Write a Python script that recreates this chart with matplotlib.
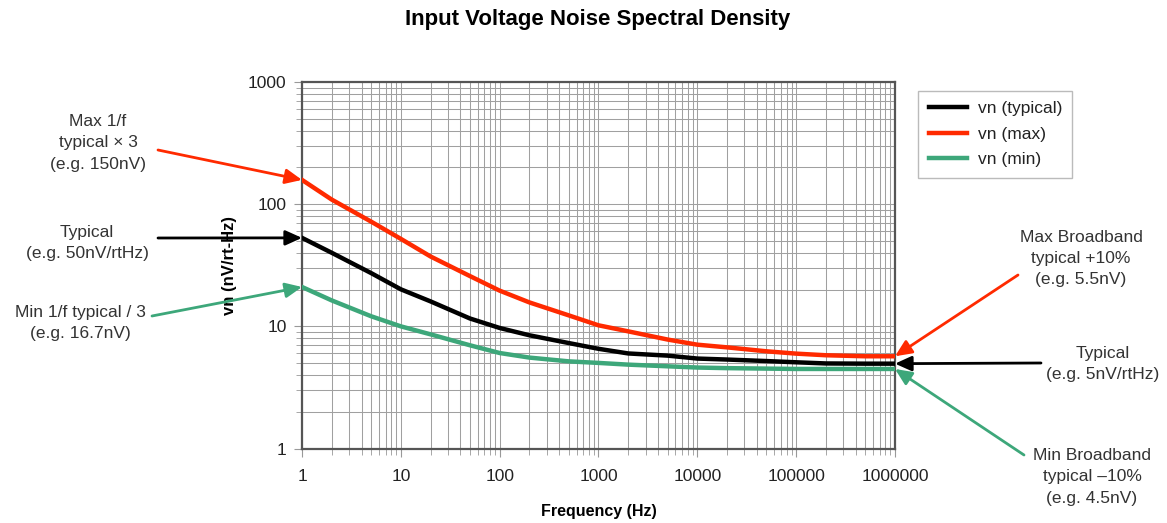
import numpy as np
import matplotlib.pyplot as plt
from matplotlib.ticker import LogLocator, FuncFormatter, NullFormatter

plt.rcParams['font.family'] = ['Liberation Sans', 'DejaVu Sans']

# frequency points (Hz) and noise density (nV/rtHz)
freq = [1, 2, 5, 10, 20, 50, 100, 200, 500, 1e3, 2e3, 5e3, 1e4, 2e4, 5e4, 1e5, 2e5, 5e5, 1e6]
vn_typ = [53, 40, 27.3, 20.1, 16.0, 11.6, 9.7, 8.45, 7.3, 6.55, 6.0, 5.76, 5.45, 5.35, 5.2, 5.08, 4.97, 4.95, 4.95]
vn_max = [158, 109, 72, 52, 37.3, 25.8, 19.6, 15.7, 12.3, 10.2, 9.1, 7.8, 7.08, 6.73, 6.25, 5.98, 5.8, 5.69, 5.69]
vn_min = [21, 16.3, 12.1, 10.0, 8.6, 7.0, 6.05, 5.55, 5.17, 5.02, 4.86, 4.71, 4.6, 4.55, 4.51, 4.48, 4.48, 4.48, 4.48]

series_labels = ['vn (typical)', 'vn (max)', 'vn (min)']
c_typ, c_max, c_min = 'black', '#ff2a00', '#3da77a'
txt_col = '#333333'

fig = plt.figure(figsize=(11.67, 5.23), dpi=100)
ax = fig.add_axes([0.2588, 0.1424, 0.5081, 0.7008])

ax.plot(freq, vn_typ, color=c_typ, lw=3.2, label=series_labels[0], zorder=4)
ax.plot(freq, vn_max, color=c_max, lw=3.2, label=series_labels[1], zorder=4)
ax.plot(freq, vn_min, color=c_min, lw=3.2, label=series_labels[2], zorder=4)

ax.set_xscale('log')
ax.set_yscale('log')
ax.set_xlim(1, 1e6)
ax.set_ylim(1, 1000)

plain = FuncFormatter(lambda v, p: '%d' % round(v))
ax.xaxis.set_major_locator(LogLocator(base=10, numticks=10))
ax.xaxis.set_minor_locator(LogLocator(base=10, subs=np.arange(2, 10), numticks=20))
ax.yaxis.set_major_locator(LogLocator(base=10, numticks=10))
ax.yaxis.set_minor_locator(LogLocator(base=10, subs=np.arange(2, 10), numticks=20))
ax.xaxis.set_major_formatter(plain)
ax.yaxis.set_major_formatter(plain)
ax.xaxis.set_minor_formatter(NullFormatter())
ax.yaxis.set_minor_formatter(NullFormatter())

ax.grid(True, which='both', color='#a0a0a0', lw=0.75)
ax.set_axisbelow(True)
for s in ax.spines.values():
    s.set_color('#555555')
    s.set_linewidth(1.6)
ax.tick_params(which='both', direction='out', color='#999999', labelsize=12.5,
               labelcolor='#222222')
ax.tick_params(axis='x', pad=9)
ax.tick_params(axis='y', pad=5)
ax.tick_params(which='major', length=6)
ax.tick_params(which='minor', length=4)

ax.set_xlabel('Frequency (Hz)', fontsize=11.5, fontweight='bold', labelpad=14)
ax.set_ylabel('vn (nV/rt-Hz)', fontsize=12, fontweight='bold', labelpad=8)
fig.text(598 / 1167, 0.962, 'Input Voltage Noise Spectral Density', ha='center', va='center',
         fontsize=16, fontweight='bold')

leg = ax.legend(loc='upper left', bbox_to_anchor=(1.025, 1.0), fontsize=12.5,
                frameon=True, fancybox=False, edgecolor='#aaaaaa', handlelength=2.2,
                handletextpad=0.6, labelspacing=0.6, borderpad=0.6)
for t in leg.get_texts():
    t.set_color('#222222')

arrow = dict(arrowstyle='-|>,head_length=1.0,head_width=0.45', lw=2, shrinkA=0, shrinkB=0)

def note(text, xy, tpos, tail, color):
    # text block in figure fraction, arrow from tail (figure fraction) to data point
    fig.text(tpos[0], tpos[1], text, ha='center', va='center', fontsize=12.5,
             color=txt_col, linespacing=1.5)
    ax.annotate('', xy=xy, xycoords='data', xytext=tail, textcoords='figure fraction',
                arrowprops=dict(arrow, color=color), annotation_clip=False, zorder=5)

W, H = 1167.0, 523.0
note('Max 1/f\ntypical \u00d7 3\n(e.g. 150nV)', (freq[0], vn_max[0]),
     (98 / W, 1 - 143 / H), (158 / W, 1 - 150 / H), c_max)
note('Typical\n(e.g. 50nV/rtHz)', (freq[0], vn_typ[0]),
     (87 / W, 1 - 243 / H), (158 / W, 1 - 238 / H), c_typ)
note('Min 1/f typical / 3\n(e.g. 16.7nV)', (freq[0], vn_min[0]),
     (80 / W, 1 - 323 / H), (152 / W, 1 - 316 / H), c_min)
note('Max Broadband\ntypical +10%\n(e.g. 5.5nV)', (freq[-1], vn_max[-1]),
     (1081 / W, 1 - 258 / H), (1018 / W, 1 - 275 / H), c_max)
note('Typical\n(e.g. 5nV/rtHz)', (freq[-1], vn_typ[-1]),
     (1103 / W, 1 - 364 / H), (1041 / W, 1 - 363 / H), c_typ)
note('Min Broadband\ntypical \u201310%\n(e.g. 4.5nV)', (freq[-1], vn_min[-1]),
     (1092 / W, 1 - 477 / H), (1024 / W, 1 - 455 / H), c_min)

fig.savefig('out.png', dpi=100)
